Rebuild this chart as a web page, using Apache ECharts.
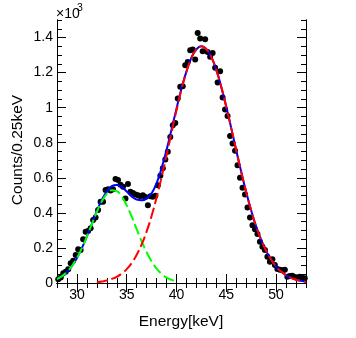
<!DOCTYPE html>
<html>
<head>
<meta charset="utf-8">
<script src="https://cdn.jsdelivr.net/npm/echarts@6/dist/echarts.min.js"></script>
<style>
  html, body { margin: 0; padding: 0; background: #fff; }
  #chart { width: 356px; height: 338px; }
</style>
</head>
<body>
<div id="chart"></div>
<script>
// histogram: 0.25 keV bins from 28 to 53 keV, counts in units of 10^3
const binLow = 28;
const binWidth = 0.25;
const counts = [
  0.021, 0.032, 0.055, 0.064, 0.078, 0.112, 0.127, 0.160, 0.192, 0.188,
  0.249, 0.292, 0.296, 0.312, 0.359, 0.374, 0.416, 0.463, 0.463, 0.530,
  0.534, 0.528, 0.534, 0.593, 0.587, 0.560, 0.549, 0.482, 0.564, 0.520,
  0.513, 0.505, 0.500, 0.495, 0.501, 0.490, 0.444, 0.495, 0.492, 0.497,
  0.558, 0.611, 0.654, 0.705, 0.748, 0.832, 0.900, 0.913, 1.052, 1.119,
  1.122, 1.242, 1.261, 1.328, 1.332, 1.275, 1.426, 1.394, 1.322, 1.390,
  1.318, 1.290, 1.312, 1.227, 1.144, 1.208, 1.058, 0.990, 0.953, 0.838,
  0.796, 0.754, 0.672, 0.600, 0.543, 0.505, 0.431, 0.374, 0.330, 0.306,
  0.279, 0.235, 0.207, 0.188, 0.150, 0.121, 0.135, 0.103, 0.080, 0.075,
  0.073, 0.075, 0.036, 0.040, 0.042, 0.034, 0.032, 0.036, 0.030, 0.027
];

// fit curves read at 0.5 keV steps
const curveStep = 0.5;
const totalStart = 28;
const totalFit = [
  0.023, 0.039, 0.063, 0.097, 0.142, 0.199, 0.266, 0.337, 0.410, 0.474,
  0.522, 0.552, 0.559, 0.547, 0.522, 0.494, 0.476, 0.472, 0.482, 0.512,
  0.569, 0.655, 0.759, 0.876, 0.995, 1.109, 1.207, 1.285, 1.333, 1.350,
  1.334, 1.288, 1.214, 1.117, 1.004, 0.882, 0.756, 0.633, 0.518, 0.413,
  0.322, 0.246, 0.183, 0.133, 0.094, 0.065, 0.044, 0.029, 0.019, 0.012,
  0.007
];
const peak1Start = 28;
const peak1Fit = [
  0.023, 0.039, 0.063, 0.097, 0.142, 0.199, 0.265, 0.336, 0.405, 0.465,
  0.508, 0.529, 0.524, 0.493, 0.443, 0.378, 0.307, 0.238, 0.175, 0.123,
  0.082, 0.052, 0.031, 0.018, 0.010
];
const peak2Start = 32;
const peak2Fit = [
  0.005, 0.009, 0.014, 0.023, 0.035, 0.054, 0.079, 0.114, 0.161, 0.220,
  0.294, 0.383, 0.487, 0.603, 0.728, 0.858, 0.985, 1.104, 1.205, 1.284,
  1.333, 1.350, 1.334, 1.288, 1.214, 1.117, 1.004, 0.882, 0.756, 0.633,
  0.518, 0.413, 0.322, 0.246, 0.183, 0.133, 0.094, 0.065, 0.044, 0.029,
  0.019, 0.012, 0.007
];

const xMajor = [30, 35, 40, 45, 50];
const yMajor = [0, 0.2, 0.4, 0.6, 0.8, 1, 1.2, 1.4];

const toPairs = (start, step, ys) => ys.map((v, i) => [start + step * i, v]);
const histPoints = counts.map((v, i) => [binLow + binWidth * (i + 0.5), v]);

const font = 'Liberation Sans, Arial, Helvetica, sans-serif';
const black = '#000';

const chart = echarts.init(document.getElementById('chart'), null, { renderer: 'canvas' });

// minor ticks on one axis, major ticks (and labels) on an overlaid one
const baseX = (pos, major) => ({
  type: 'value',
  position: pos,
  min: 28,
  max: 53,
  interval: 1,
  axisLine: { show: true, lineStyle: { color: black, width: 1 } },
  axisTick: major
    ? { show: true, inside: true, length: 9, customValues: xMajor, lineStyle: { color: black } }
    : { show: true, inside: true, length: 5, lineStyle: { color: black } },
  axisLabel: major && pos === 'bottom'
    ? { show: true, customValues: xMajor, margin: 5, color: black, fontSize: 14, fontFamily: font }
    : { show: false },
  splitLine: { show: false }
});

const baseY = (pos, major) => ({
  type: 'value',
  position: pos,
  min: 0,
  max: 1.5,
  interval: 0.05,
  axisLine: { show: true, lineStyle: { color: black, width: 1 } },
  axisTick: major
    ? { show: true, inside: true, length: 9, customValues: yMajor, lineStyle: { color: black } }
    : { show: true, inside: true, length: 5, lineStyle: { color: black } },
  axisLabel: major && pos === 'left'
    ? { show: true, customValues: yMajor, margin: 4, color: black, fontSize: 14, fontFamily: font,
        formatter: v => String(Math.round(v * 10) / 10) }
    : { show: false },
  splitLine: { show: false }
});

const option = {
  backgroundColor: '#fff',
  animation: false,
  grid: { left: 57, right: 50, top: 20, bottom: 55, show: false },
  xAxis: [baseX('bottom', false), baseX('bottom', true), baseX('top', false), baseX('top', true)],
  yAxis: [baseY('left', false), baseY('left', true), baseY('right', false), baseY('right', true)],
  series: [
    {
      name: 'data',
      type: 'scatter',
      data: histPoints,
      symbol: 'circle',
      symbolSize: 6,
      itemStyle: { color: black, opacity: 1 },
      z: 2
    },
    {
      name: 'total',
      type: 'line',
      data: toPairs(totalStart, curveStep, totalFit),
      smooth: true,
      showSymbol: false,
      lineStyle: { color: '#0000ff', width: 2 },
      z: 3
    },
    {
      name: 'peak1',
      type: 'line',
      data: toPairs(peak1Start, curveStep, peak1Fit),
      smooth: true,
      showSymbol: false,
      lineStyle: { color: '#00ff00', width: 2, type: [11, 4] },
      z: 4
    },
    {
      name: 'peak2',
      type: 'line',
      data: toPairs(peak2Start, curveStep, peak2Fit),
      smooth: true,
      showSymbol: false,
      lineStyle: { color: '#ff0000', width: 2, type: [11, 4] },
      z: 4
    }
  ],
  graphic: [
    { type: 'text', x: 56, y: 14, style: { text: '×10', fontSize: 14, fontFamily: font, fill: black, align: 'left', verticalAlign: 'middle' } },
    { type: 'text', x: 77, y: 8, style: { text: '3', fontSize: 10.5, fontFamily: font, fill: black, align: 'left', verticalAlign: 'middle' } },
    { type: 'text', x: 181, y: 322, style: { text: 'Energy[keV]', fontSize: 15.5, fontFamily: font, fill: black, align: 'center', verticalAlign: 'middle' } },
    { type: 'text', x: 17.5, y: 150, rotation: Math.PI / 2, style: { text: 'Counts/0.25keV', fontSize: 15.5, fontFamily: font, fill: black, align: 'center', verticalAlign: 'middle' } }
  ]
};

chart.setOption(option);
</script>
</body>
</html>
